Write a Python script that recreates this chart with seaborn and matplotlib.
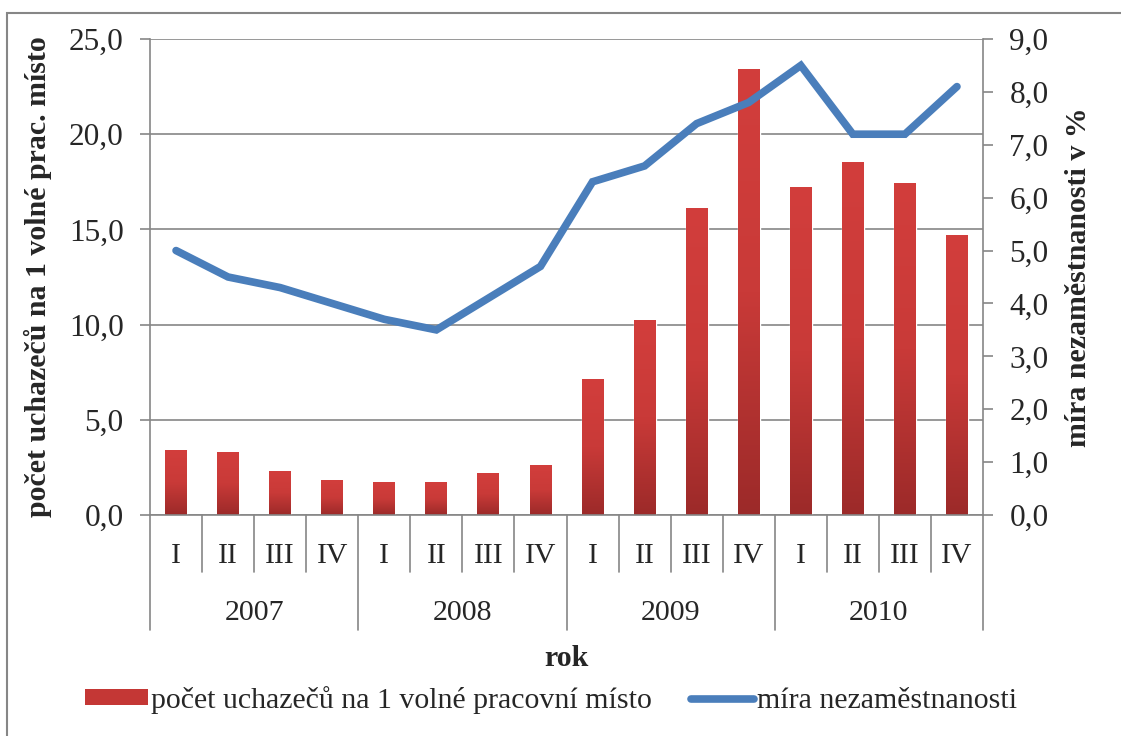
import numpy as np
import pandas as pd
import seaborn as sns
import matplotlib.pyplot as plt
from matplotlib.colors import LinearSegmentedColormap
from matplotlib.patches import Rectangle, Patch
from matplotlib.lines import Line2D
from matplotlib.ticker import FuncFormatter

years = ["2007", "2008", "2009", "2010"]
quarters = ["I", "II", "III", "IV"]
uchazeci = [3.4, 3.3, 2.3, 1.8, 1.7, 1.7, 2.2, 2.6,
            7.1, 10.2, 16.1, 23.4, 17.2, 18.5, 17.4, 14.7]
nezamestnanost = [5.0, 4.5, 4.3, 4.0, 3.7, 3.5, 4.1, 4.7,
                  6.3, 6.6, 7.4, 7.8, 8.5, 7.2, 7.2, 8.1]

bar_label = "počet uchazečů na 1 volné pracovní místo"
line_label = "míra nezaměstnanosti"

df = pd.DataFrame({
    "pos": np.arange(len(uchazeci)),
    "rok": [y for y in years for _ in quarters],
    "ctvrtleti": quarters * len(years),
    "uchazeci": uchazeci,
    "mira": nezamestnanost,
})

sns.set_style("white")
plt.rcParams["font.family"] = ["Liberation Serif", "DejaVu Serif"]
fs = 21.5
fs_tick = 22.5
grey = "#868686"
blue = "#4A7EBB"
comma = FuncFormatter(lambda v, _: f"{v:.1f}".replace(".", ","))

fig = plt.figure(figsize=(11.21, 7.36), dpi=100)
ax = fig.add_axes([150 / 1121, 1 - 515 / 736, 833 / 1121, 476 / 736])

sns.barplot(data=df, x="pos", y="uchazeci", color="#C0392B", width=0.42,
            ax=ax, zorder=2)

# gradient fill inside each bar
cmap = LinearSegmentedColormap.from_list("bar", ["#9C2A29", "#C93A38", "#D23E3C"])
grad = np.linspace(0, 1, 256).reshape(-1, 1)
for p in list(ax.patches):
    x0, y0 = p.get_x(), p.get_y()
    w, h = p.get_width(), p.get_height()
    ax.imshow(grad, extent=[x0, x0 + w, y0, y0 + h], origin="lower",
              aspect="auto", cmap=cmap, zorder=2.5)

n = len(uchazeci)
ax.set_xlim(-0.5, n - 0.5)
ax.set_ylim(0, 25)
ax.set_yticks(np.arange(0, 25.1, 5))
ax.yaxis.set_major_formatter(comma)
ax.set_axisbelow(True)
ax.grid(axis="y", color=grey, linewidth=1.2)
ax.grid(axis="x", visible=False)
for s in ["top", "right"]:
    ax.spines[s].set_visible(False)
for s in ["left", "bottom"]:
    ax.spines[s].set_color(grey)
    ax.spines[s].set_linewidth(1.2)
ax.tick_params(axis="y", direction="out", length=7, width=1.2, color=grey,
               labelsize=fs_tick, pad=12, left=True)
ax.tick_params(axis="x", length=0, labelsize=fs, pad=20)
ax.set_xticks(df["pos"])
ax.set_xticklabels(df["ctvrtleti"])
ax.set_xlabel("")
ax.set_ylabel("počet uchazečů na 1 volné prac. místo", fontsize=fs,
              fontweight="bold")
ax.yaxis.set_label_coords(-0.118, 0.5)

# multi-level category axis
tr = ax.get_xaxis_transform()
px = 1 / 476  # one pixel in axes fraction (vertical)
for k in range(n + 1):
    xb = k - 0.5
    depth = 115 if k % 4 == 0 else 57
    ax.plot([xb, xb], [0, -depth * px], transform=tr, color=grey,
            linewidth=1.2, clip_on=False)
for i, y in enumerate(years):
    ax.text(i * 4 + 1.5, -98 * px, y, transform=tr, ha="center", va="center",
            fontsize=fs)
ax.text(0.5, -143 * px, "rok", transform=ax.transAxes, ha="center",
        va="center", fontsize=fs, fontweight="bold")

ax2 = ax.twinx()
sns.lineplot(data=df, x="pos", y="mira", ax=ax2, color=blue, linewidth=5.5,
             solid_capstyle="round", solid_joinstyle="miter", legend=False)
ax2.set_xlim(-0.5, n - 0.5)
ax2.set_ylim(0, 9)
ax2.set_yticks(np.arange(0, 9.1, 1))
ax2.yaxis.set_major_formatter(comma)
for s in ["top", "left", "bottom"]:
    ax2.spines[s].set_visible(False)
ax2.spines["right"].set_color(grey)
ax2.spines["right"].set_linewidth(1.2)
ax2.tick_params(axis="y", direction="out", length=7, width=1.2, color=grey,
                labelsize=fs_tick, pad=12, right=True)
ax2.set_xlabel("")
ax2.set_ylabel("míra nezaměstnanosti v %", fontsize=fs, fontweight="bold")
ax2.yaxis.set_label_coords(1.098, 0.5)

handles = [Patch(facecolor="#C43735", edgecolor="none"),
           Line2D([0], [0], color=blue, linewidth=5.5, solid_capstyle="round")]
fig.legend(handles, [bar_label, line_label], loc="center",
           bbox_to_anchor=(551 / 1121, 1 - 700 / 736), ncol=2, frameon=False,
           fontsize=fs, handlelength=2.1, handleheight=0.45,
           handletextpad=0.1, columnspacing=1.3)

# outer chart border
fig.patches.append(Rectangle((7 / 1121, -0.05), 1.2, 1 - 13 / 736 + 0.05,
                             transform=fig.transFigure, fill=False,
                             edgecolor=grey, linewidth=1.5))

fig.savefig("out.png", dpi=100)
